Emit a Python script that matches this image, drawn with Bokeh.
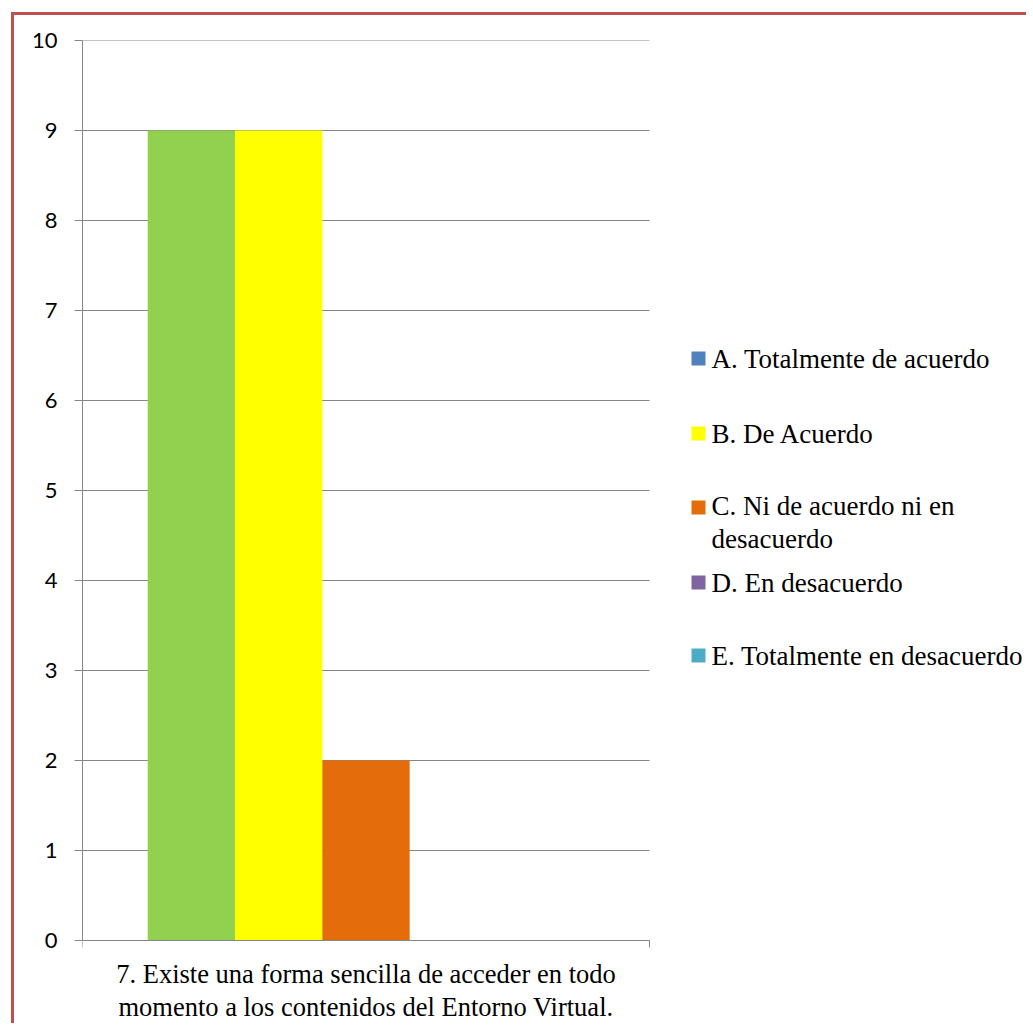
from bokeh.plotting import figure
from bokeh.models import Range1d, FixedTicker, ColumnDataSource
from bokeh.core.properties import value
from bokeh.embed import file_html
from bokeh.resources import INLINE

# ---- data ----
categories = ["A. Totalmente de acuerdo", "B. De Acuerdo",
              "C. Ni de acuerdo ni en\ndesacuerdo", "D. En desacuerdo",
              "E. Totalmente en desacuerdo"]
values = [9, 9, 2, 0, 0]
question = "7. Existe una forma sencilla de acceder en todo\nmomento a los contenidos del Entorno Virtual."
y_ticks = [0, 1, 2, 3, 4, 5, 6, 7, 8, 9, 10]

bar_colors = ["#92D050", "#FFFF00", "#E46C0A", "#8064A2", "#4BACC6"]
legend_colors = ["#4F81BD", "#FFFF00", "#E46C0A", "#8064A2", "#4BACC6"]

# ---- layout (pixels) ----
W, H = 1015, 1011
FL, FT = 68, 25                    # frame left / top on canvas
ZERO = 925                         # canvas y of value 0
BOTTOM_BORDER = 9
PLOT_W = 567                       # width of the chart's plot area in px
frame_w = W - FL
frame_bottom = H - BOTTOM_BORDER
px_per_unit = (ZERO - FT) / (y_ticks[-1] - y_ticks[0])
x_end = -0.5 + frame_w / PLOT_W
y_start = -(frame_bottom - ZERO) / px_per_unit

p = figure(width=W, height=H, output_backend="svg", toolbar_location=None,
           x_range=Range1d(-0.5, x_end), y_range=Range1d(y_start, 10),
           min_border_left=FL, min_border_top=FT,
           min_border_right=0, min_border_bottom=BOTTOM_BORDER)
p.styles = {"border-left": "3px solid #C0504D", "border-top": "3px solid #C0504D",
            "transform": "translate(11px, 12px)"}
p.outline_line_color = None
p.background_fill_color = "white"
p.border_fill_color = "white"
p.xgrid.grid_line_color = None
p.ygrid.grid_line_color = None

grid_col = "#868686"
# horizontal gridlines over the plot area only
p.segment(x0=[-0.5] * len(y_ticks), x1=[0.5] * len(y_ticks), y0=y_ticks, y1=y_ticks,
          line_color=grid_col, line_width=1)

bw = 0.154
n = len(values)
xs = [(i - (n - 1) / 2) * bw for i in range(n)]
p.vbar(x=xs, top=values, width=bw, fill_color=bar_colors, line_color=None)

p.yaxis.bounds = (y_ticks[0], y_ticks[-1])
p.yaxis.ticker = FixedTicker(ticks=y_ticks)
p.yaxis.axis_line_color = grid_col
p.yaxis.major_tick_line_color = grid_col
p.yaxis.major_tick_out = 8
p.yaxis.major_tick_in = 0
p.yaxis.minor_tick_line_color = None
p.yaxis.major_label_text_font = "Lato"
p.yaxis.major_label_text_font_size = "22px"
p.yaxis.major_label_text_color = "black"
p.yaxis.major_label_standoff = 17

p.xaxis.fixed_location = 0
p.xaxis.bounds = (-0.5, 0.5)
p.xaxis.ticker = FixedTicker(ticks=[-0.5, 0.5])
p.xaxis.axis_line_color = grid_col
p.xaxis.major_tick_line_color = grid_col
p.xaxis.major_tick_out = 7
p.xaxis.major_tick_in = 0
p.xaxis.minor_tick_line_color = None
p.xaxis.major_label_overrides = {-0.5: "", 0.5: ""}
p.xaxis.major_label_text_font_size = "1px"
p.xaxis.major_label_standoff = 0

# category label under the axis, centred on the single category
p.text(x=[0], y=[0], text=[question], y_offset=18, text_align="center",
       text_baseline="top", text_font=value("Liberation Serif"),
       text_font_size="26.5px", text_line_height=1.12, text_color="black")

# ---- legend (rows in px from frame top) ----
row_px = [318, 393, 467, 542, 615]
text_px = [318, 393, 482, 542, 615]
to_y = lambda v: y_ticks[-1] - v / px_per_unit
sq_x = -0.5 + 616 / PLOT_W
tx_x = -0.5 + 629 / PLOT_W
leg = ColumnDataSource(dict(
    sx=[sq_x] * n, sy=[to_y(v) for v in row_px],
    tx=[tx_x] * n, ty=[to_y(v) for v in text_px],
    label=categories, color=legend_colors))
p.scatter(x="sx", y="sy", source=leg, marker="square", size=14,
          fill_color="color", line_color=None)
p.text(x="tx", y="ty", text="label", source=leg, text_align="left",
       text_baseline="middle", text_font=value("Liberation Serif"),
       text_font_size="27px", text_line_height=1.11, text_color="black")

open("out.html", "w").write(file_html(p, INLINE))
